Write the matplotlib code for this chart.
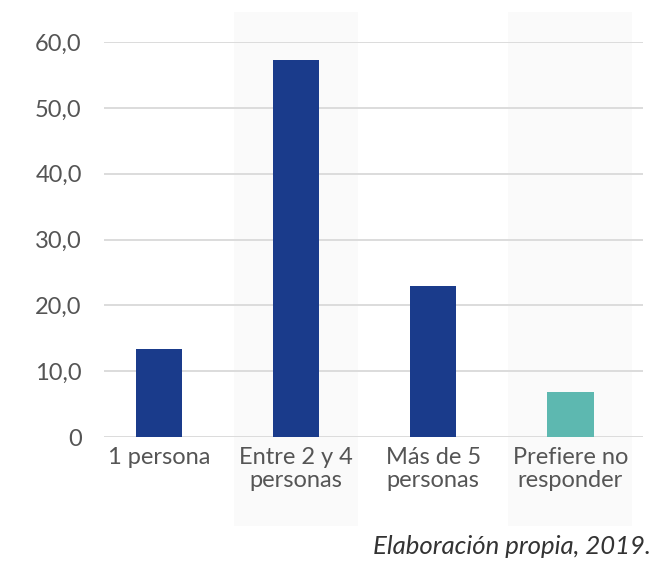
import matplotlib.pyplot as plt
from matplotlib.ticker import FuncFormatter

# Data
categories = ["1 persona", "Entre 2 y 4\npersonas", "Más de 5\npersonas", "Prefiere no\nresponder"]
values = [13.4, 57.3, 22.9, 6.8]
bar_colors = ["#1a3b8b", "#1a3b8b", "#1a3b8b", "#5db8b0"]
yticks = [0, 10, 20, 30, 40, 50, 60]

plt.rcParams['font.family'] = ['Lato', 'DejaVu Sans']
text_color = "#555555"

fig = plt.figure(figsize=(6.52, 5.61), dpi=100)
ax = fig.add_axes([0.1595, 0.221, 0.8265, 0.704])

x = list(range(len(categories)))

# light shaded bands behind every second category
for i in x:
    if i % 2 == 1:
        ax.axvspan(i - 0.453, i + 0.453, ymin=-0.225, ymax=1.076,
                   color="#fafafa", clip_on=False, zorder=0, lw=0)

for y in yticks:
    ax.axhline(y, color="#d9d9d9", lw=1.3, zorder=1)

ax.bar(x, values, width=0.34, color=bar_colors, zorder=3)

ax.set_xlim(-0.40, 3.53)
ax.set_ylim(0, 60)
ax.set_yticks(yticks)
ax.yaxis.set_major_formatter(FuncFormatter(lambda v, p: "0" if v == 0 else f"{v:.1f}".replace(".", ",")))
ax.set_xticks(x)
ax.set_xticklabels(categories, linespacing=1.15)
ax.tick_params(axis='both', length=0, labelsize=17, colors=text_color)
ax.tick_params(axis='y', pad=16)
ax.tick_params(axis='x', pad=7)
for s in ax.spines.values():
    s.set_visible(False)
ax.patch.set_alpha(0)

fig.text(0.572, 0.006, "Elaboración propia, 2019.", fontsize=18.5, style='italic',
         color="#333333", ha='left', va='bottom')

fig.savefig("out.png", dpi=100)
